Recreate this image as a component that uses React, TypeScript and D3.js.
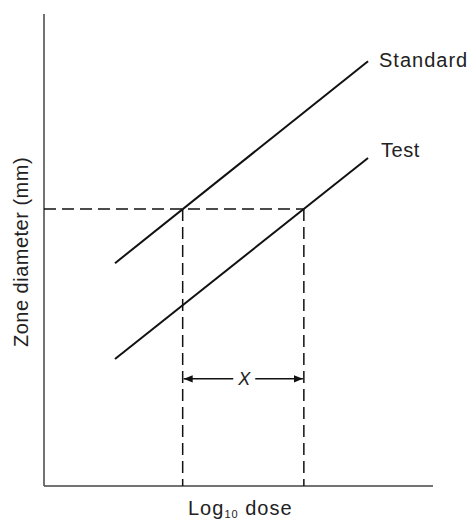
import React from "react";
import * as d3 from "d3";

const seriesNames = ["Standard", "Test"];
const doseRange = [18.25, 83.3];
const standardDiameters = [47.2, 90.0];
const testDiameters = [26.9, 69.5];
const referenceDiameter = 58.7;
const standardDoseAtRef = 35.65;
const testDoseAtRef = 66.8;
const arrowDiameter = 22.7;
const xAxisLabel = "dose";
const yAxisLabel = "Zone diameter (mm)";

const W = 471;
const H = 519;

export default function App() {
  const x = d3.scaleLinear().domain([0, 100]).range([44, 433]);
  const y = d3.scaleLinear().domain([0, 100]).range([486, 14]);
  const line = d3
    .line<[number, number]>()
    .x((d) => x(d[0]))
    .y((d) => y(d[1]));
  const std: [number, number][] = doseRange.map((d, i) => [d, standardDiameters[i]]);
  const tst: [number, number][] = doseRange.map((d, i) => [d, testDiameters[i]]);
  const font = "'Liberation Sans', Arial, sans-serif";
  const dash = "12 6";
  const ay = y(arrowDiameter);
  const x1 = x(standardDoseAtRef);
  const x2 = x(testDoseAtRef);
  const mid = (x1 + x2) / 2;
  return (
    <svg
      width={W}
      height={H}
      style={{ position: "absolute", left: 0, top: 0, background: "#fff" }}
    >
      <defs>
        <marker id="ah" viewBox="0 0 10 10" refX="10" refY="5" markerWidth="9" markerHeight="9" markerUnits="userSpaceOnUse" orient="auto-start-reverse">
          <path d="M0,1 L10,5 L0,9 Z" fill="#111" />
        </marker>
      </defs>
      {/* axes */}
      <line x1={x(0)} y1={y(0)} x2={x(0)} y2={y(100)} stroke="#444" strokeWidth={1.5} />
      <line x1={x(0)} y1={y(0)} x2={x(100)} y2={y(0)} stroke="#444" strokeWidth={1.5} />
      {/* reference dashed lines */}
      <line x1={x(0)} y1={y(referenceDiameter)} x2={x2} y2={y(referenceDiameter)} stroke="#111" strokeWidth={1.5} strokeDasharray={dash} />
      <line x1={x1} y1={y(referenceDiameter)} x2={x1} y2={y(0)} stroke="#111" strokeWidth={1.5} strokeDasharray={dash} />
      <line x1={x2} y1={y(referenceDiameter)} x2={x2} y2={y(0)} stroke="#111" strokeWidth={1.5} strokeDasharray={dash} />
      {/* response lines */}
      <path d={line(std) || ""} fill="none" stroke="#111" strokeWidth={2} />
      <path d={line(tst) || ""} fill="none" stroke="#111" strokeWidth={2} />
      <text x={x(doseRange[1]) + 11} y={y(standardDiameters[1]) + 6} fontFamily={font} fontSize={20} letterSpacing={1} fill="#222">
        {seriesNames[0]}
      </text>
      <text x={x(doseRange[1]) + 13} y={y(testDiameters[1]) - 1} fontFamily={font} fontSize={20} letterSpacing={0.5} fill="#222">
        {seriesNames[1]}
      </text>
      {/* X arrow */}
      <line x1={mid - 10} y1={ay} x2={x1 + 1} y2={ay} stroke="#111" strokeWidth={1.5} markerEnd="url(#ah)" />
      <line x1={mid + 12} y1={ay} x2={x2 - 1} y2={ay} stroke="#111" strokeWidth={1.5} markerEnd="url(#ah)" />
      <text x={mid + 1} y={ay + 6} textAnchor="middle" fontFamily={font} fontSize={18} fontStyle="italic" fill="#222">
        X
      </text>
      {/* axis labels */}
      <text x={188} y={515} fontFamily={font} fontSize={20} letterSpacing={1} fill="#222">
        Log<tspan fontSize={11} dy={3}>10</tspan>
        <tspan dy={-3}> {xAxisLabel}</tspan>
      </text>
      <text
        transform={`translate(28, 252) rotate(-90)`}
        textAnchor="middle"
        fontFamily={font}
        fontSize={20}
        letterSpacing={0.5}
        fill="#222"
      >
        {yAxisLabel}
      </text>
    </svg>
  );
}
